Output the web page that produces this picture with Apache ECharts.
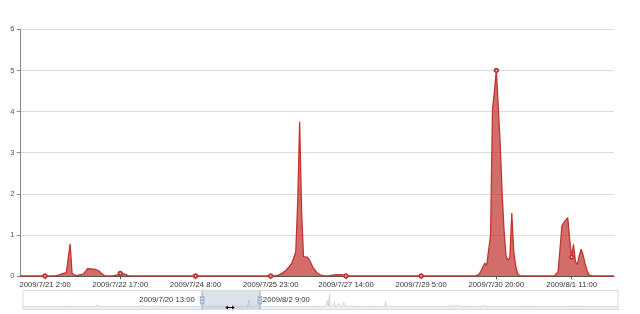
<!DOCTYPE html>
<html><head><meta charset="utf-8">
<script src="https://cdn.jsdelivr.net/npm/echarts@6/dist/echarts.min.js"></script>
<style>html,body{margin:0;padding:0;background:#fff}#c{width:640px;height:314px}</style>
</head><body><div id="c"></div>
<script>
// Hourly record: first and last hour
const firstHour = '2009/6/12 2:00';
const lastHour = '2009/10/18 8:00';
// Visible zoom window
const zoomStart = '2009/7/20 13:00';
const zoomEnd = '2009/8/2 9:00';
// Rainfall segments: [first hour, consecutive hourly values]; every other hour reads 0
const rainSegments = [
  ['2009/6/28 2:00',  [0.3, 1.2, 0.4]],
  ['2009/7/6 10:00',  [0.2, 0.7, 0.3]],
  ['2009/7/7 21:00',  [0.3, 0.8, 0.2]],
  ['2009/7/10 14:00', [0.4, 0.9, 0.3]],
  ['2009/7/16 20:00', [0.2, 0.5, 0.2]],
  ['2009/7/21 9:00',  [0.02, 0.04, 0.06, 0.08, 0.08, 0.1, 0.78, 0.06, 0.02, 0.01, 0.02, 0.03, 0.04, 0.05, 0.08, 0.18, 0.19, 0.17, 0.17, 0.16, 0.15, 0.12, 0.07, 0.03]],
  ['2009/7/22 15:00', [0.02, 0.05, 0.06, 0.06, 0.05, 0.03, 0.01]],
  ['2009/7/26 2:00',  [0.01, 0.02, 0.04, 0.07, 0.1, 0.14, 0.18, 0.25, 0.32, 0.45, 0.6, 1.8, 3.75, 1.6, 0.47, 0.46, 0.46, 0.4, 0.3, 0.2, 0.14, 0.08, 0.04, 0.02, 0.01]],
  ['2009/7/27 7:00',  [0.02, 0.03, 0.03, 0.03, 0.03, 0.03, 0.02]],
  ['2009/7/30 10:00', [0.01, 0.04, 0.12, 0.22, 0.31, 0.26, 0.3, 1.0, 4.05, 4.5, 5.0, 4.1, 3.2, 2.0, 1.1, 0.5, 0.38, 0.45, 1.53, 0.6, 0.25, 0.06, 0.01]],
  ['2009/8/1 3:00',   [0.02, 0.1, 0.65, 1.22, 1.3, 1.33, 1.42, 0.9, 0.46, 0.77, 0.35, 0.28, 0.5, 0.65, 0.5, 0.3, 0.14, 0.03]],
  ['2009/8/16 16:00', [0.6, 4.5, 1.0, 0.2, 0.1, 0.1, 0.2, 0.5, 1.5, 3.8, 7.5, 9.3, 2.5, 0.6, 0.2]],
  ['2009/8/18 3:00',  [0.8, 3.0, 0.9]],
  ['2009/8/19 4:00',  [0.6, 2.2, 0.7]],
  ['2009/8/20 5:00',  [1.0, 3.0, 0.8]],
  ['2009/8/21 16:00', [0.3, 0.9, 0.3]],
  ['2009/8/26 1:00',  [0.1, 0.4, 0.1]],
  ['2009/8/29 4:00',  [1.1, 3.5, 1.2]],
  ['2009/9/11 22:00', [0.4, 1.0, 0.5]],
  ['2009/9/12 18:00', [0.6, 1.4, 0.6]],
  ['2009/9/13 19:00', [0.5, 1.2, 0.4]],
  ['2009/9/15 1:00',  [0.2, 0.6, 0.2]],
  ['2009/9/19 10:00', [0.3, 0.9, 0.3]],
  ['2009/10/2 8:00',  [0.1, 0.25, 0.1]],
  ['2009/10/8 9:00',  [0.1, 0.3, 0.1]],
  ['2009/10/10 11:00',[0.1, 0.3, 0.1]]
];
const yTicks = [0, 1, 2, 3, 4, 5, 6];

const HOUR = 3600000;
function parseHour(s) {
  const parts = s.split(' ');
  const d = parts[0].split('/').map(Number);
  const h = Number(parts[1].split(':')[0]);
  return Date.UTC(d[0], d[1] - 1, d[2], h);
}
function fmtHour(ms) {
  const d = new Date(ms);
  return d.getUTCFullYear() + '/' + (d.getUTCMonth() + 1) + '/' + d.getUTCDate() + ' ' + d.getUTCHours() + ':00';
}
const t0 = parseHour(firstHour), t1 = parseHour(lastHour);
const categories = [];
for (let t = t0; t <= t1; t += HOUR) categories.push(fmtHour(t));
const rain = categories.map(function () { return 0; });
rainSegments.forEach(function (seg) {
  const i0 = Math.round((parseHour(seg[0]) - t0) / HOUR);
  seg[1].forEach(function (v, j) { rain[i0 + j] = v; });
});

const FONT = 'Liberation Sans, Arial, sans-serif';
const W = 640, H = 314;
const SL = {left: 20, right: 24, bottom: 4.5, height: 19.5};
const sliderW = W - SL.left - SL.right;
const sliderMidY = H - SL.bottom - SL.height / 2;
const iStart = categories.indexOf(zoomStart), iEnd = categories.indexOf(zoomEnd);
const hx0 = SL.left + sliderW * iStart / (categories.length - 1);
const hx1 = SL.left + sliderW * iEnd / (categories.length - 1);

const chart = echarts.init(document.getElementById('c'), null, {renderer: 'canvas'});
chart.setOption({
  animation: false,
  color: ['#c23531'],
  grid: {left: 20, right: 26, top: 29.3, bottom: 38, containLabel: false, outerBoundsMode: 'none'},
  xAxis: {
    type: 'category',
    boundaryGap: false,
    data: categories,
    axisLine: {show: true, lineStyle: {color: '#555', width: 1}},
    axisTick: {show: true, length: 3.2, interval: 38, lineStyle: {color: '#555'}},
    axisLabel: {interval: 38, fontSize: 7.7, fontFamily: FONT, color: '#333', margin: 5},
    splitLine: {show: false}
  },
  yAxis: {
    type: 'value',
    min: yTicks[0], max: yTicks[yTicks.length - 1], interval: yTicks[1] - yTicks[0],
    axisLine: {show: true, lineStyle: {color: '#888', width: 1}},
    axisTick: {show: true, length: 3.2, lineStyle: {color: '#888'}},
    axisLabel: {fontSize: 7.7, fontFamily: FONT, color: '#555', margin: 5.5},
    splitLine: {show: true, lineStyle: {color: '#dcdcdc', width: 1}}
  },
  dataZoom: [{
    type: 'slider',
    xAxisIndex: 0,
    startValue: iStart,
    endValue: iEnd,
    left: SL.left, right: SL.right, bottom: SL.bottom, height: SL.height,
    borderColor: '#ddd',
    backgroundColor: 'rgba(47,69,84,0)',
    fillerColor: 'rgba(167,183,204,0.4)',
    handleIcon: 'M8.2,13.6V3.9H6.3v9.7H3.1v14.9h3.3v9.7h1.8v-9.7h3.3V13.6H8.2z M9.7,24.4H4.8v-1.4h4.9V24.4z M9.7,19.1H4.8v-1.4h4.9V19.1z',
    handleSize: '100%',
    handleStyle: {color: '#a7b7cc', borderColor: '#a7b7cc', borderWidth: 0},
    moveHandleSize: 0,
    brushSelect: false,
    showDetail: true,
    showDataShadow: true,
    dataBackground: {lineStyle: {color: '#2f4554', width: 0.5, opacity: 0.3}, areaStyle: {color: 'rgba(47,69,84,0.3)', opacity: 0.3}},
    selectedDataBackground: {lineStyle: {color: '#2f4554', width: 0.5, opacity: 0.3}, areaStyle: {color: 'rgba(47,69,84,0.3)', opacity: 0.3}},
    textStyle: {color: '#333', fontSize: 7.7, fontFamily: FONT}
  }],
  graphic: [
    {type: 'text', x: hx0 - 4, y: sliderMidY, z: 100,
     style: {text: zoomStart, fill: '#333', font: '7.7px ' + FONT, align: 'right', verticalAlign: 'middle'}},
    {type: 'text', x: hx1 + 4.5, y: sliderMidY, z: 100,
     style: {text: zoomEnd, fill: '#333', font: '7.7px ' + FONT, align: 'left', verticalAlign: 'middle'}},
    // mouse cursor (east-west resize) visible in the screenshot
    {type: 'polygon', x: 230, y: 307.5, z: 101,
     shape: {points: [[-5, 0], [-2, -3], [-2, -1], [2, -1], [2, -3], [5, 0], [2, 3], [2, 1], [-2, 1], [-2, 3]]},
     style: {fill: '#000', stroke: '#fff', lineWidth: 0.8}}
  ],
  series: [{
    type: 'line',
    data: rain,
    symbol: 'emptyCircle',
    symbolSize: 3.5,
    showAllSymbol: 'auto',
    lineStyle: {color: '#c23531', width: 1.3},
    itemStyle: {color: '#c23531', borderWidth: 1},
    areaStyle: {color: '#c23531', opacity: 0.72}
  }]
});
</script></body></html>
